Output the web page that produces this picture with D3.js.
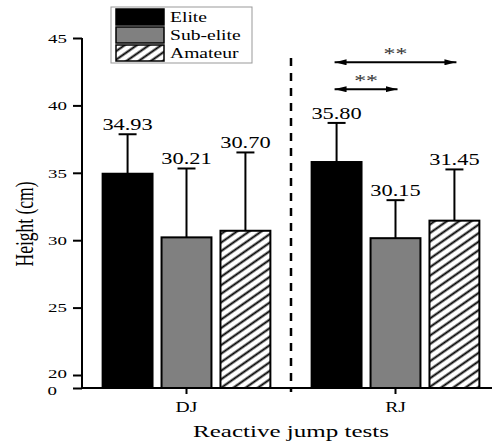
<!DOCTYPE html>
<html>
<head>
<meta charset="utf-8">
<script src="https://cdn.jsdelivr.net/npm/d3@7"></script>
<style>
  body { margin: 0; background: #fff; }
  svg { display: block; font-family: "Liberation Serif", "Times New Roman", serif; }
</style>
</head>
<body>
<svg id="chart" width="492" height="444"></svg>
<script>
const categories = ["DJ", "RJ"];
const groups = ["Elite", "Sub-elite", "Amateur"];
const djMeans = [34.93, 30.21, 30.70];
const rjMeans = [35.80, 30.15, 31.45];
const djSD = [2.93, 5.11, 5.81];
const rjSD = [2.90, 2.82, 3.80];
const yTicks = [0, 20, 25, 30, 35, 40, 45];
// significance brackets in RJ: [from, to, level]
const sigFrom = ["Elite", "Elite"];
const sigTo = ["Sub-elite", "Amateur"];
const sigLevel = [41.2, 43.2];
const sigText = ["**", "**"];

const svg = d3.select("#chart");
const K = 1.4; // horizontal stretch of the original figure

const y = d3.scaleLinear().domain([0, 20, 45]).range([388, 375, 38]);
const x0 = d3.scaleBand().domain(categories).range([82, 500]);
const x1 = d3.scaleBand().domain(groups).range([0, x0.bandwidth()])
    .paddingInner(0.153).paddingOuter(0.35);

const fills = { "Elite": "#000", "Sub-elite": "#808080", "Amateur": "url(#hatch)" };

const defs = svg.append("defs");
const pat = defs.append("pattern")
    .attr("id", "hatch")
    .attr("patternUnits", "userSpaceOnUse")
    .attr("width", 10).attr("height", 7)
    .attr("patternTransform", "rotate(-35)");
pat.append("rect").attr("width", 10).attr("height", 7).attr("fill", "#fff");
pat.append("line").attr("x1", 0).attr("x2", 10).attr("y1", 3.5).attr("y2", 3.5)
    .attr("stroke", "#000").attr("stroke-width", 2);

defs.append("marker")
    .attr("id", "arrowEnd").attr("viewBox", "0 0 12 6")
    .attr("refX", 12).attr("refY", 3)
    .attr("markerWidth", 12).attr("markerHeight", 6)
    .attr("markerUnits", "userSpaceOnUse")
    .attr("orient", "auto-start-reverse")
    .append("path").attr("d", "M0,0L12,3L0,6Z").attr("fill", "#000");

function stretchText(sel, x, yy, str, size, anchor) {
    return sel.append("text")
        .attr("transform", `translate(${x},${yy}) scale(${K},1)`)
        .attr("text-anchor", anchor || "middle")
        .attr("font-size", size)
        .attr("fill", "#000")
        .text(str);
}

// rows of data
const rows = [];
categories.forEach((c, ci) => {
    const means = ci === 0 ? djMeans : rjMeans;
    const sds = ci === 0 ? djSD : rjSD;
    groups.forEach((g, gi) => rows.push({ cat: c, group: g, mean: means[gi], sd: sds[gi] }));
});
const cx = d => x0(d.cat) + x1(d.group) + x1.bandwidth() / 2;

// bars
svg.append("g").selectAll("rect")
    .data(rows).enter().append("rect")
    .attr("x", d => x0(d.cat) + x1(d.group))
    .attr("y", d => y(d.mean))
    .attr("width", x1.bandwidth())
    .attr("height", d => y(0) - y(d.mean))
    .attr("fill", d => fills[d.group])
    .attr("stroke", "#000")
    .attr("stroke-width", 2);

// error bars (upper only)
const eb = svg.append("g").attr("stroke", "#000").attr("stroke-width", 2);
eb.selectAll("line.v").data(rows).enter().append("line")
    .attr("x1", cx).attr("x2", cx)
    .attr("y1", d => y(d.mean)).attr("y2", d => y(d.mean + d.sd));
eb.selectAll("line.c").data(rows).enter().append("line")
    .attr("x1", d => cx(d) - 9).attr("x2", d => cx(d) + 9)
    .attr("y1", d => y(d.mean + d.sd)).attr("y2", d => y(d.mean + d.sd));

// value labels
const lab = svg.append("g");
rows.forEach(d => stretchText(lab, cx(d), y(d.mean + d.sd) - 4, d.mean.toFixed(2), 16));

// y axis
const yAxis = svg.append("g")
    .attr("transform", `translate(${x0.range()[0]},0)`)
    .call(d3.axisLeft(y).tickValues(yTicks).tickSize(9).tickPadding(6).tickFormat(d3.format("d")));
yAxis.select(".domain").attr("d", `M0,${y(0)}V${y(45)}`).attr("stroke-width", 2);
yAxis.selectAll(".tick line").attr("stroke-width", 2);
yAxis.selectAll(".tick text")
    .attr("font-size", 13.5)
    .attr("font-family", "Liberation Serif")
    .attr("dy", d => d === 0 ? "0.5em" : d === 20 ? "0.2em" : "0.32em")
    .attr("transform", d => `translate(${d === 0 ? -10 : 0},0) scale(${K},1)`)
    .attr("x", -15 / K);

// x axis
const xAxis = svg.append("g")
    .attr("transform", `translate(0,${y(0)})`)
    .call(d3.axisBottom(x0).tickSize(6).tickPadding(8));
xAxis.select(".domain").attr("d", `M${x0.range()[0]},0H${x0.range()[1]}`).attr("stroke-width", 2);
xAxis.selectAll(".tick line").attr("stroke-width", 2);
xAxis.selectAll(".tick text")
    .attr("font-size", 14)
    .attr("font-family", "Liberation Serif")
    .attr("transform", `scale(${K},1)`);

// separator
svg.append("line")
    .attr("x1", x0("RJ")).attr("x2", x0("RJ"))
    .attr("y1", 58).attr("y2", y(0) + 4)
    .attr("stroke", "#000").attr("stroke-width", 2.5)
    .attr("stroke-dasharray", "8,7");

// significance arrows
const sig = svg.append("g");
sigFrom.forEach((f, i) => {
    const a = cx({ cat: "RJ", group: f });
    const b = cx({ cat: "RJ", group: sigTo[i] });
    const yy = y(sigLevel[i]);
    sig.append("line")
        .attr("x1", a - 2).attr("x2", b + 2).attr("y1", yy).attr("y2", yy)
        .attr("stroke", "#000").attr("stroke-width", 2)
        .attr("marker-start", "url(#arrowEnd)")
        .attr("marker-end", "url(#arrowEnd)");
    stretchText(sig, (a + b) / 2, yy - 3, sigText[i], 17).attr("fill", "#333");
});

// axis titles
svg.append("text")
    .attr("transform", `translate(33,224) scale(${K},1) rotate(-90)`)
    .attr("text-anchor", "middle")
    .attr("font-size", 17.5)
    .text("Height (cm)");
svg.append("text")
    .attr("x", 291).attr("y", 437)
    .attr("text-anchor", "middle")
    .attr("font-size", 17)
    .attr("textLength", 196)
    .attr("lengthAdjust", "spacingAndGlyphs")
    .text("Reactive jump tests");

// legend
const leg = svg.append("g");
leg.append("rect").attr("x", 111).attr("y", 7).attr("width", 141).attr("height", 56)
    .attr("fill", "#fff").attr("stroke", "#999").attr("stroke-width", 1);
groups.forEach((g, i) => {
    const ry = 9 + i * 18;
    leg.append("rect").attr("x", 116).attr("y", ry).attr("width", 48).attr("height", 16)
        .attr("fill", fills[g]).attr("stroke", "#000").attr("stroke-width", 1.5);
    stretchText(leg, 170, ry + 13, g, 14, "start");
});
</script>
</body>
</html>
